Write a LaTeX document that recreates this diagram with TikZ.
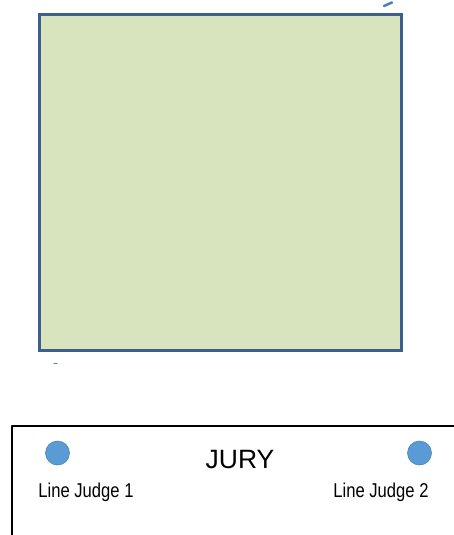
\documentclass[tikz,border=0pt]{standalone}
\usepackage{fontspec}
\setmainfont{Liberation Sans}
\newfontfamily\narrowfont[FakeStretch=0.83]{Liberation Sans}
\definecolor{courtgreen}{HTML}{D7E4BD}
\definecolor{courtline}{HTML}{3C5F8E}
\definecolor{judgeblue}{HTML}{5B9BD5}
\definecolor{markblue}{HTML}{4A7EBB}
\tikzset{
  judge/.style={circle, fill=judgeblue, draw=judgeblue!85!black, line width=0.6pt, minimum size=24pt, inner sep=0pt},
  judgelabel/.style={font=\narrowfont\fontsize{20}{24}\selectfont, anchor=base, inner sep=0pt},
  jurylabel/.style={font=\fontsize{26.5}{30}\selectfont, anchor=base, inner sep=0pt}
}
\begin{document}
\begin{tikzpicture}[x=1pt, y=-1pt, line join=round, line cap=round]
  \useasboundingbox (0,0) rectangle (453,535);
  % court
  \draw[courtline, fill=courtgreen, line width=3pt, line cap=butt, line join=miter] (39,15) rectangle (401,350);
  \draw[markblue, line width=2.5pt] (384,6) -- (392,2.5);
  \draw[markblue, line width=1.2pt] (54,363.5) -- (57,363.5);
  % jury table
  \draw[line width=1.6pt, line cap=butt] (12,536) -- (12,426) -- (454,426);
  \node[judge] (lj1) at (57.5,453) {};
  \node[judge] (lj2) at (419.5,453) {};
  \node[jurylabel] (jury) at (240,468) {JURY};
  \node[judgelabel] (lj1label) at (86,497) {Line Judge 1};
  \node[judgelabel] (lj2label) at (381,497) {Line Judge 2};
\end{tikzpicture}
\end{document}
